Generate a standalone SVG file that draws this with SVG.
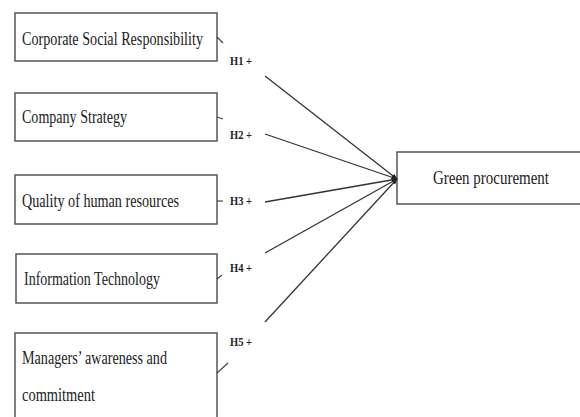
<svg xmlns="http://www.w3.org/2000/svg" width="580" height="417" viewBox="0 0 580 417">
<style>
.box{fill:#fff;stroke:#555;stroke-width:1.5}
.t{font-family:"Liberation Serif","Times New Roman",serif;font-size:19px;fill:#222}
.h{font-family:"Liberation Serif","Times New Roman",serif;font-size:13px;font-weight:bold;fill:#222}
.ln{stroke:#333;stroke-width:1.3;fill:none}
.tk{stroke:#444;stroke-width:1.2;fill:none}
</style>
<defs>
<marker id="arr" viewBox="0 0 10 10" refX="9" refY="5" markerWidth="6" markerHeight="6" markerUnits="userSpaceOnUse" orient="auto">
<path d="M0,1 L10,5 L0,9 z" fill="#222"/>
</marker>
</defs>
<g id="n1"><rect class="box" x="15" y="13" width="202" height="48"/><text class="t" x="22" y="45" textLength="181" lengthAdjust="spacingAndGlyphs">Corporate Social Responsibility</text></g>
<g id="n2"><rect class="box" x="15" y="93" width="202" height="48"/><text class="t" x="22" y="123" textLength="105" lengthAdjust="spacingAndGlyphs">Company Strategy</text></g>
<g id="n3"><rect class="box" x="15" y="175" width="202" height="49"/><text class="t" x="22" y="207" textLength="157" lengthAdjust="spacingAndGlyphs">Quality of human resources</text></g>
<g id="n4"><rect class="box" x="16" y="254" width="201" height="49"/><text class="t" x="24" y="285" textLength="136" lengthAdjust="spacingAndGlyphs">Information Technology</text></g>
<g id="n5"><rect class="box" x="15" y="333" width="202" height="100"/><text class="t" x="22" y="364" textLength="145" lengthAdjust="spacingAndGlyphs">Managers’ awareness and</text><text class="t" x="22" y="401" textLength="73" lengthAdjust="spacingAndGlyphs">commitment</text></g>
<g id="n6"><rect class="box" x="397" y="152" width="190" height="52"/><text class="t" x="433" y="184" textLength="116" lengthAdjust="spacingAndGlyphs">Green procurement</text></g>
<g id="connectors">
<path class="tk" d="M217,37 L223,43"/>
<path class="tk" d="M217,117 L223,119"/>
<path class="tk" d="M217,201 L223,201"/>
<path class="tk" d="M217,279 L222,275"/>
<path class="tk" d="M217,373 L228,363"/>
<line class="ln" x1="265" y1="76" x2="397" y2="179" marker-end="url(#arr)"/>
<line class="ln" x1="265" y1="134" x2="397" y2="179" marker-end="url(#arr)"/>
<line class="ln" x1="265" y1="202" x2="397" y2="179" marker-end="url(#arr)"/>
<line class="ln" x1="265" y1="253" x2="397" y2="179" marker-end="url(#arr)"/>
<line class="ln" x1="265" y1="322" x2="397" y2="179" marker-end="url(#arr)"/>
<text class="h" x="230" y="65" textLength="22" lengthAdjust="spacingAndGlyphs">H1 +</text>
<text class="h" x="230" y="139" textLength="22" lengthAdjust="spacingAndGlyphs">H2 +</text>
<text class="h" x="230" y="205" textLength="22" lengthAdjust="spacingAndGlyphs">H3 +</text>
<text class="h" x="230" y="272" textLength="22" lengthAdjust="spacingAndGlyphs">H4 +</text>
<text class="h" x="230" y="346" textLength="22" lengthAdjust="spacingAndGlyphs">H5 +</text>
</g>
</svg>
